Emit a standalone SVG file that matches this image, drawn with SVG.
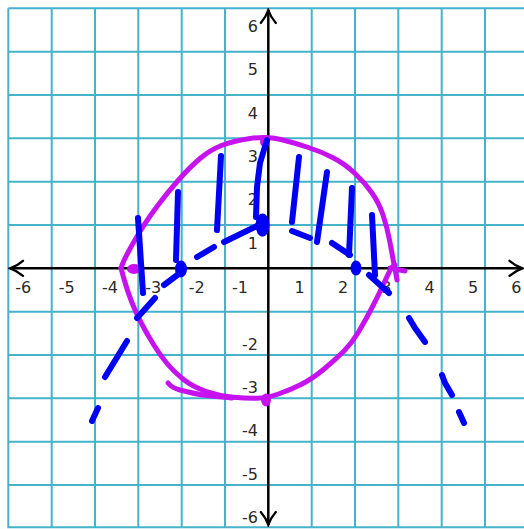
<svg xmlns="http://www.w3.org/2000/svg" width="524" height="529" viewBox="0 0 524 529">
<style>
.grid{stroke:#45b3cb;stroke-width:2;fill:none}
.axis{stroke:#000;stroke-width:2.5;fill:none;marker-start:url(#arr);marker-end:url(#arr)}
.lbl{font-family:"DejaVu Sans",sans-serif;font-size:16px;fill:#2a2a2a}
.xp{text-anchor:middle}
.yl{text-anchor:end}
.pink{stroke:#c612ee;stroke-width:5;fill:none;stroke-linecap:round;stroke-linejoin:round}
.pinkf{fill:#c612ee}
.blue{stroke:#0000f5;stroke-width:6;fill:none;stroke-linecap:round;stroke-linejoin:round}
.bluef{fill:#0000f5}
</style>
<defs>
<marker id="arr" viewBox="-16 -9 18 18" refX="0" refY="0" markerWidth="18" markerHeight="18" markerUnits="userSpaceOnUse" orient="auto-start-reverse">
<path d="M-13,-7.5 C-9,-4 -3,-1 0,0 C-3,1 -9,4 -13,7.5" stroke="#000" stroke-width="2.3" fill="none" stroke-linecap="round"/>
</marker>
</defs>
<rect width="524" height="529" fill="#fff"/>
<g id="grid">
<path class="grid" d="M8.3,8.3V528.3M51.7,8.3V528.3M95,8.3V528.3M138.3,8.3V528.3M181.7,8.3V528.3M225,8.3V528.3M311.7,8.3V528.3M355,8.3V528.3M398.3,8.3V528.3M441.7,8.3V528.3M485,8.3V528.3M528.3,8.3V528.3M8.3,8.3H528.3M8.3,51.7H528.3M8.3,95H528.3M8.3,138.3H528.3M8.3,181.7H528.3M8.3,225H528.3M8.3,311.7H528.3M8.3,355H528.3M8.3,398.3H528.3M8.3,441.7H528.3M8.3,485H528.3M8.3,527.3H528.3"/>
</g>
<g id="axes">
<line class="axis" x1="10" y1="268.3" x2="522.5" y2="268.3"/>
<line class="axis" x1="268.3" y1="10" x2="268.3" y2="525"/>
</g>
<g id="labels" class="lbl">
<text class="xp" x="23.3" y="293">-6</text>
<text class="xp" x="66.7" y="293">-5</text>
<text class="xp" x="110" y="293">-4</text>
<text class="xp" x="153.3" y="293">-3</text>
<text class="xp" x="196.7" y="293">-2</text>
<text class="xp" x="240" y="293">-1</text>
<text class="xp" x="299.7" y="293">1</text>
<text class="xp" x="343" y="293">2</text>
<text class="xp" x="386.3" y="293">3</text>
<text class="xp" x="429.7" y="293">4</text>
<text class="xp" x="473" y="293">5</text>
<text class="xp" x="516.3" y="293">6</text>
<text class="yl" x="258" y="32">6</text>
<text class="yl" x="258" y="75.3">5</text>
<text class="yl" x="258" y="118.7">4</text>
<text class="yl" x="258" y="162">3</text>
<text class="yl" x="258" y="205.3">2</text>
<text class="yl" x="258" y="248.7">1</text>
<text class="yl" x="258" y="349.7">-2</text>
<text class="yl" x="258" y="393">-3</text>
<text class="yl" x="258" y="436.3">-4</text>
<text class="yl" x="258" y="479.7">-5</text>
<text class="yl" x="258" y="523">-6</text>
</g>
<g id="circle-sketch">
<path class="pink" d="M121,268 L122.5,264 Q124,260 128.5,251.5 Q133,243 140,231.5 Q147,220 157,206.5 Q167,193 178.5,180 Q190,167 200,158.5 Q210,150 221.5,145.5 Q233,141 250,138.5 Q267,136 281,139.5 Q295,143 308.5,147.5 Q322,152 333.5,158 Q345,164 355,173.5 Q365,183 372,193 Q379,203 383,215 Q387,227 389.5,240 Q392,253 393.5,261.5 L395,270"/>
<path class="pink" d="M121,268 L124,279 Q127,290 131.5,301.5 Q136,313 141.5,323.5 Q147,334 153.5,344.5 Q160,355 167,363.5 Q174,372 183.5,379.5 Q193,387 206.5,391.5 Q220,396 233.5,397.25 Q247,398.5 257,398.25 Q267,398 278.5,394 Q290,390 301,384.5 Q312,379 323.5,369.5 Q335,360 343.5,351.5 Q352,343 358.5,332 Q365,321 370.5,310.5 Q376,300 380,291.5 Q384,283 387.5,275.5 Q391,268 393,266.5 L395,265"/>
<path class="pink" d="M168,383 Q172,388 180,390 Q195,394 207,395.5 L232,398"/>
<path class="pink" d="M390,268 L405,271 M395,269 L397,280"/>
<ellipse class="pinkf" cx="134" cy="269" rx="7" ry="5"/>
<ellipse class="pinkf" cx="265" cy="142" rx="5" ry="5"/>
<ellipse class="pinkf" cx="266" cy="400" rx="5" ry="6.5"/>
</g>
<g id="parabola-sketch">
<path class="blue" d="M92,421 L98,408 M105,377 L116,359 L127,341 M137,318 L155,298 M164,285 L180,273 M197,257 L214,247 M224,242 L257,226 M292,231 L310,238 M332,243 L350,255 M369,275 L389,293 M409,318 L415,328 L425,342 M442,375 L445,383 L452,395 M459,412 L464,423"/>
<ellipse class="bluef" cx="181" cy="269" rx="6" ry="8.5"/>
<ellipse class="bluef" cx="262.5" cy="225" rx="7" ry="11.5"/>
<ellipse class="bluef" cx="356" cy="268" rx="5.5" ry="7.5"/>
</g>
<g id="shading">
<path class="blue" d="M138,218 L143,293 M178,192 L176,260 M221,156 L217,230 M256,217 L257,187 L260,163 L267,140 M299,157 L292,222 M327,172 L317,242 M352,188 L349,255 M372,215 L375,275"/>
</g>
</svg>
